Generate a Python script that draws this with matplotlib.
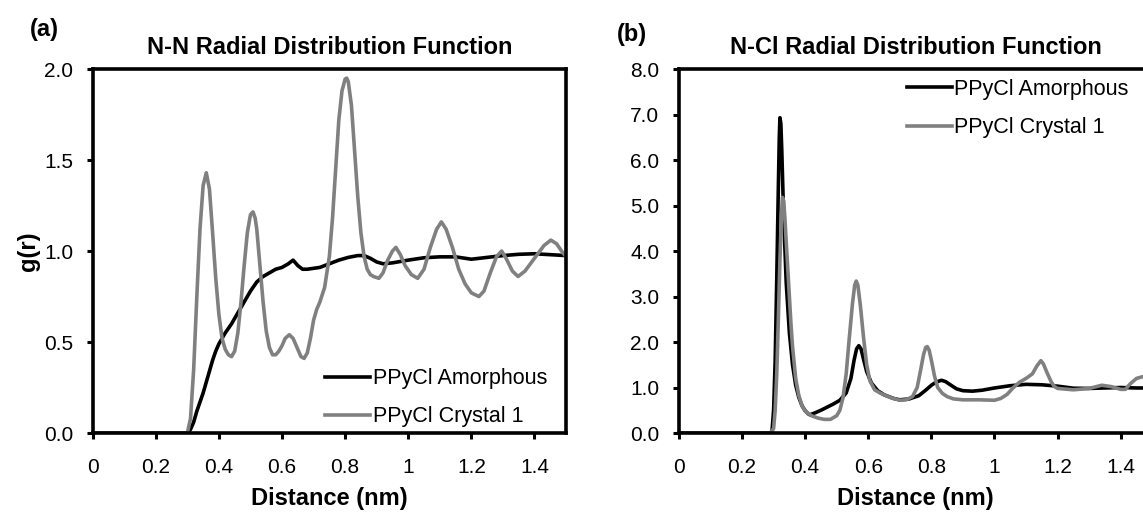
import numpy as np
import matplotlib
matplotlib.use("Agg")
from matplotlib import pyplot as plt

plt.rcParams['font.family'] = ['Liberation Sans', 'DejaVu Sans']

# N-N radial distribution function
nn_amor_r = [0.0, 0.30, 0.31, 0.32, 0.33, 0.34, 0.35, 0.36, 0.37, 0.38, 0.39, 0.40, 0.42, 0.44,
             0.46, 0.48, 0.50, 0.52, 0.54, 0.56, 0.58, 0.60, 0.62, 0.635, 0.65, 0.665, 0.68,
             0.70, 0.72, 0.75, 0.78, 0.81, 0.84, 0.86, 0.88, 0.90, 0.92, 0.95, 1.00, 1.05,
             1.10, 1.15, 1.20, 1.25, 1.30, 1.35, 1.40, 1.45, 1.50]
nn_amor_g = [0.0, 0.0, 0.02, 0.06, 0.12, 0.17, 0.22, 0.28, 0.34, 0.40, 0.45, 0.49, 0.55, 0.60,
             0.66, 0.72, 0.78, 0.83, 0.86, 0.88, 0.90, 0.91, 0.93, 0.95, 0.92, 0.90, 0.90,
             0.905, 0.91, 0.93, 0.95, 0.965, 0.975, 0.975, 0.96, 0.94, 0.93, 0.935, 0.95, 0.963,
             0.968, 0.968, 0.955, 0.965, 0.975, 0.982, 0.985, 0.98, 0.975]

nn_cryst_r = [0.0, 0.30, 0.31, 0.32, 0.33, 0.34, 0.35, 0.36, 0.37, 0.38, 0.39, 0.40, 0.41, 0.42,
              0.43, 0.44, 0.45, 0.46, 0.47, 0.48, 0.49, 0.50, 0.508, 0.515, 0.52, 0.53, 0.54,
              0.55, 0.56, 0.57, 0.58, 0.59, 0.60, 0.61, 0.623, 0.635, 0.65, 0.66, 0.67, 0.68,
              0.69, 0.70, 0.71, 0.72, 0.735, 0.75, 0.76, 0.77, 0.78, 0.79, 0.80, 0.805, 0.81,
              0.82, 0.83, 0.84, 0.85, 0.86, 0.87, 0.88, 0.89, 0.907, 0.92, 0.935, 0.95, 0.961,
              0.975, 0.99, 1.01, 1.03, 1.05, 1.07, 1.09, 1.105, 1.12, 1.14, 1.16, 1.18, 1.20,
              1.224, 1.24, 1.26, 1.28, 1.296, 1.31, 1.33, 1.348, 1.37, 1.40, 1.43, 1.452, 1.47,
              1.49, 1.50]
nn_cryst_g = [0.0, 0.0, 0.08, 0.35, 0.75, 1.12, 1.36, 1.43, 1.34, 1.10, 0.85, 0.65, 0.52, 0.46,
              0.43, 0.42, 0.45, 0.55, 0.72, 0.92, 1.10, 1.20, 1.215, 1.18, 1.12, 0.92, 0.72,
              0.56, 0.47, 0.43, 0.43, 0.45, 0.48, 0.52, 0.54, 0.52, 0.46, 0.42, 0.41, 0.44,
              0.52, 0.62, 0.68, 0.72, 0.80, 0.97, 1.18, 1.45, 1.72, 1.88, 1.945, 1.95, 1.93,
              1.80, 1.55, 1.30, 1.10, 0.97, 0.90, 0.87, 0.86, 0.85, 0.88, 0.95, 1.00, 1.02,
              0.98, 0.92, 0.87, 0.85, 0.90, 1.02, 1.12, 1.16, 1.12, 1.02, 0.90, 0.82, 0.77,
              0.75, 0.78, 0.88, 0.97, 1.00, 0.96, 0.89, 0.86, 0.89, 0.96, 1.03, 1.06, 1.04,
              0.99, 0.97]

# N-Cl radial distribution function
ncl_amor_r = [0.0, 0.29, 0.295, 0.30, 0.305, 0.31, 0.315, 0.318, 0.32, 0.323, 0.326, 0.33,
              0.335, 0.34, 0.35, 0.36, 0.37, 0.38, 0.39, 0.40, 0.41, 0.415, 0.43, 0.45, 0.47,
              0.49, 0.51, 0.53, 0.545, 0.555, 0.563, 0.57, 0.577, 0.585, 0.595, 0.61, 0.63,
              0.65, 0.68, 0.70, 0.73, 0.76, 0.78, 0.80, 0.815, 0.832, 0.845, 0.86, 0.88, 0.90,
              0.93, 0.96, 1.00, 1.05, 1.10, 1.15, 1.20, 1.25, 1.30, 1.35, 1.40, 1.45, 1.50]
ncl_amor_g = [0.0, 0.0, 0.05, 0.5, 1.6, 3.4, 5.4, 6.5, 6.93, 6.8, 6.2, 5.2,
              4.2, 3.3, 2.2, 1.5, 1.05, 0.78, 0.60, 0.49, 0.42, 0.40, 0.44, 0.50, 0.57,
              0.64, 0.72, 0.88, 1.2, 1.6, 1.85, 1.92, 1.85, 1.62, 1.35, 1.10, 0.93,
              0.84, 0.76, 0.73, 0.75, 0.82, 0.93, 1.05, 1.12, 1.16, 1.13, 1.06, 0.97, 0.93,
              0.92, 0.94, 0.99, 1.04, 1.07, 1.06, 1.03, 0.985, 0.98, 0.99, 1.0, 0.99, 0.99]

ncl_cryst_r = [0.0, 0.29, 0.30, 0.305, 0.31, 0.315, 0.32, 0.325, 0.328, 0.332, 0.336, 0.34,
               0.345, 0.35, 0.355, 0.36, 0.37, 0.38, 0.39, 0.40, 0.42, 0.44, 0.46, 0.48, 0.50,
               0.51, 0.52, 0.53, 0.54, 0.55, 0.557, 0.562, 0.567, 0.575, 0.585, 0.595, 0.605,
               0.62, 0.64, 0.67, 0.70, 0.72, 0.74, 0.755, 0.765, 0.775, 0.782, 0.787, 0.793,
               0.80, 0.81, 0.82, 0.835, 0.85, 0.87, 0.90, 0.95, 1.00, 1.02, 1.04, 1.06, 1.08,
               1.10, 1.12, 1.135, 1.147, 1.155, 1.165, 1.18, 1.19, 1.20, 1.25, 1.30, 1.34,
               1.37, 1.40, 1.415, 1.43, 1.45, 1.47, 1.50]
ncl_cryst_g = [0.0, 0.0, 0.1, 0.5, 1.3, 2.5, 3.8, 4.8, 5.18, 5.1, 4.7, 4.2,
               3.6, 3.0, 2.4, 1.9, 1.2, 0.82, 0.60, 0.48, 0.38, 0.33, 0.30, 0.30, 0.38,
               0.50, 0.78, 1.3, 2.1, 2.85, 3.25, 3.34, 3.25, 2.8, 2.1, 1.5, 1.15,
               0.95, 0.87, 0.78, 0.72, 0.73, 0.80, 1.0, 1.35, 1.72, 1.88, 1.90, 1.82,
               1.6, 1.25, 1.0, 0.87, 0.80, 0.75, 0.73, 0.73, 0.72, 0.76, 0.85, 1.0, 1.12,
               1.20, 1.30, 1.48, 1.59, 1.52, 1.35, 1.12, 1.02, 0.98, 0.95, 0.98, 1.05,
               1.02, 0.96, 0.96, 1.08, 1.20, 1.24, 1.20]

x_ticks = [0, 0.2, 0.4, 0.6, 0.8, 1.0, 1.2, 1.4]
x_labels = ['0', '0.2', '0.4', '0.6', '0.8', '1', '1.2', '1.4']
nn_yticks = [0.0, 0.5, 1.0, 1.5, 2.0]
ncl_yticks = [0, 1, 2, 3, 4, 5, 6, 7, 8]

BLACK = '#000000'
GRAY = '#808080'
TICK_FS = 15
LABEL_FS = 17
LEG_FS = 15.5

fig = plt.figure(figsize=(11.43, 5.25), dpi=100)
axa = fig.add_axes([0.0811, 0.1752, 0.4141, 0.6933])
axb = fig.add_axes([0.5940, 0.1752, 0.4141, 0.6933])


def style(ax, yticks, fmt):
    ax.set_xlim(0, 1.5)
    ax.set_xticks(x_ticks)
    ax.set_xticklabels(x_labels, fontsize=TICK_FS)
    ax.set_yticks(yticks)
    ax.set_yticklabels([fmt % v for v in yticks], fontsize=TICK_FS)
    ax.set_ylim(yticks[0], yticks[-1])
    for s in ax.spines.values():
        s.set_linewidth(2.6)
    ax.tick_params(direction='out', length=4, width=2.2)
    ax.tick_params(axis='x', pad=14)
    ax.tick_params(axis='y', pad=10)
    ax.set_xlabel('Distance (nm)', fontsize=LABEL_FS, fontweight='bold', labelpad=7)


axa.plot(nn_amor_r, nn_amor_g, color=BLACK, lw=2.6, label='PPyCl Amorphous')
axa.plot(nn_cryst_r, nn_cryst_g, color=GRAY, lw=2.6, label='PPyCl Crystal 1')
style(axa, nn_yticks, '%.1f')
axa.set_ylabel('g(r)', fontsize=LABEL_FS, fontweight='bold', labelpad=3)
axa.set_title('N-N Radial Distribution Function', fontsize=LABEL_FS, fontweight='bold', pad=11)
axa.legend(loc='lower left', bbox_to_anchor=(0.45, -0.038), frameon=False, fontsize=LEG_FS,
           handlelength=2.1, handletextpad=0.12, labelspacing=0.8)

axb.plot(ncl_amor_r, ncl_amor_g, color=BLACK, lw=2.6, label='PPyCl Amorphous')
axb.plot(ncl_cryst_r, ncl_cryst_g, color=GRAY, lw=2.6, label='PPyCl Crystal 1')
style(axb, ncl_yticks, '%.1f')
axb.set_title('N-Cl Radial Distribution Function', fontsize=LABEL_FS, fontweight='bold', pad=11)
axb.legend(loc='upper left', bbox_to_anchor=(0.44, 1.026), frameon=False, fontsize=LEG_FS,
           handlelength=2.1, handletextpad=0.12, labelspacing=0.8)

fig.text(0.0385, 0.944, '(a)', fontsize=LABEL_FS, fontweight='bold', ha='center', va='center')
fig.text(0.553, 0.935, '(b)', fontsize=LABEL_FS, fontweight='bold', ha='center', va='center')

fig.savefig('out.png', dpi=100)
